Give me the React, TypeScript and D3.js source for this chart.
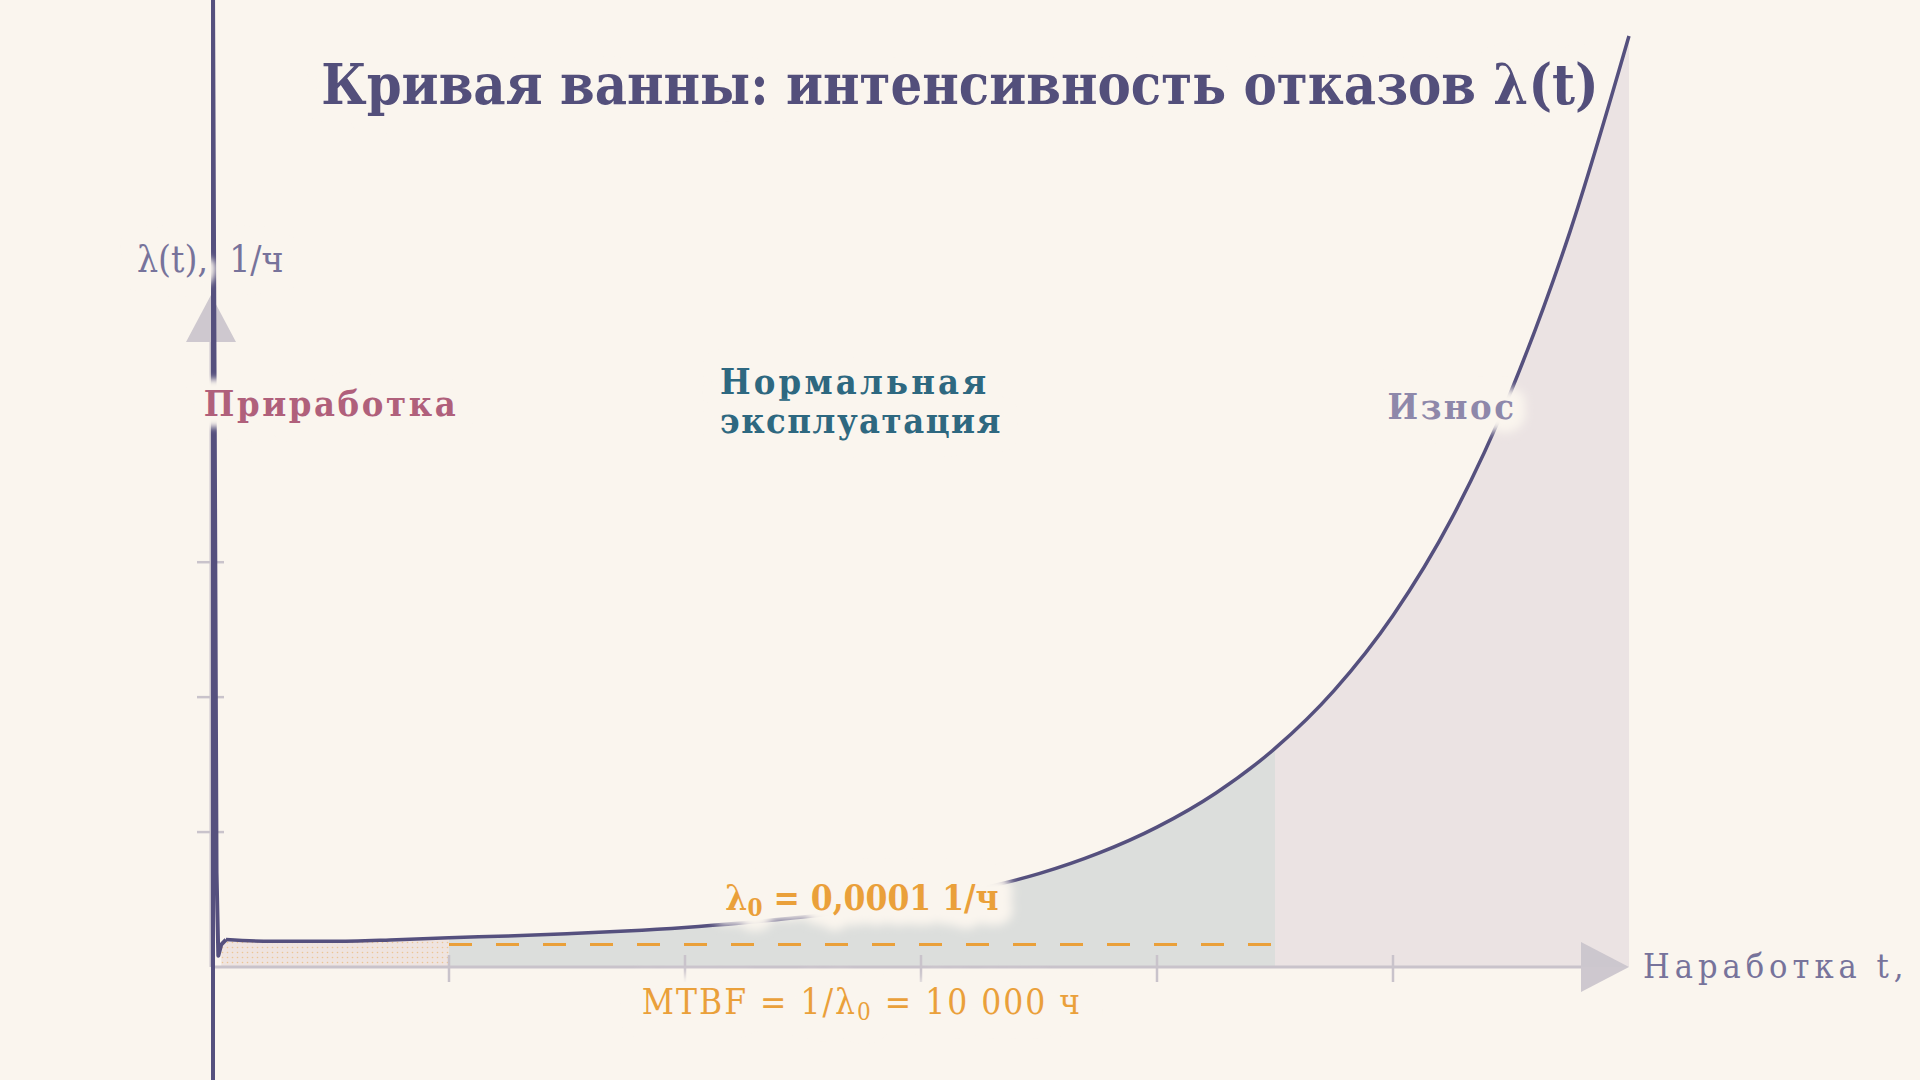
import React from 'react';
import * as d3 from 'd3';

const W = 1920;
const H = 1080;

const TITLE = 'Кривая ванны: интенсивность отказов λ(t)';
const Y_LABEL = 'λ(t),\u00A0 1/ч';
const X_LABEL = 'Наработка t,';
const ZONE_NAMES = ['Приработка', 'Нормальная', 'эксплуатация', 'Износ'];
const ZONE_BOUNDS = [0, 2000, 9000, 12000]; // hours
const X_TICKS = [2000, 4000, 6000, 8000, 10000];
const Y_TICKS = [6, 12, 18]; // ×1e-4 1/ч
const LAMBDA0 = 1; // ×1e-4 1/ч
const LAMBDA0_TEXT = ['λ', '0', ' = 0,0001 1/ч'];
const MTBF_TEXT = ['MTBF = 1/λ', '0', ' = 10 000 ч'];

// early-failure spike (hours, λ ×1e-4 1/ч)
const SPIKE_T = [0, 0, 30, 45, 70, 110];
const SPIKE_L = [-5.1, 43.5, 4.2, 0.5, 1.0, 1.22];
// main curve
const CURVE_T = [110, 500, 1000, 1500, 2000, 2500, 3000, 3500, 4000, 4500, 5000, 5500, 6000, 6500, 7000, 7500, 8000, 8500, 9000, 9500, 10000, 10500, 11000, 11500, 12000];
const CURVE_L = [1.22, 1.14, 1.14, 1.2, 1.3, 1.38, 1.48, 1.6, 1.76, 1.97, 2.22, 2.55, 2.95, 3.48, 4.15, 5.05, 6.22, 7.74, 9.72, 12.29, 15.63, 19.97, 25.6, 32.7, 41.4];

const BG = '#faf5ee';
const INK = '#55507e';
const AXIS = '#c9c3cb';
const ORANGE = '#eaa03a';
const LABEL = '#77739b';
const FONT = "'DejaVu Serif Condensed', 'DejaVu Serif', serif";

function HaloText(props: any) {
  const { children, halo = 18, blur = 3, ...rest } = props;
  return (
    <g>
      <text {...rest} fill={BG} stroke={BG} strokeWidth={halo} strokeLinejoin="round" filter={`url(#blur${blur})`}>{children}</text>
      <text {...rest}>{children}</text>
    </g>
  );
}

export default function App() {
  const x = d3.scaleLinear().domain([0, 12000]).range([213, 1629]);
  const y = d3.scaleLinear().domain([0, 43]).range([967, 0]);

  const spike = SPIKE_T.map((t, i) => [t, SPIKE_L[i]] as [number, number]);
  const curve = CURVE_T.map((t, i) => [t, CURVE_L[i]] as [number, number]);

  const line = d3.line<[number, number]>().x(d => x(d[0])).y(d => y(d[1]));
  const smooth = d3.line<[number, number]>().x(d => x(d[0])).y(d => y(d[1])).curve(d3.curveMonotoneX);
  const area = d3.area<[number, number]>().x(d => x(d[0])).y0(y(0)).y1(d => y(d[1])).curve(d3.curveMonotoneX);

  const zoneFills = ['url(#dots)', '#dcdedc', '#ebe3e3'];
  const x0 = x(0);
  const y0 = y(0);
  const xEnd = x(12000);
  const areaData = [spike[spike.length - 2], ...curve];

  return (
    <svg width={W} height={H} viewBox={`0 0 ${W} ${H}`} style={{ position: 'absolute', left: 0, top: 0, display: 'block' }}>
      <defs>
        <pattern id="dots" width="5" height="5" patternUnits="userSpaceOnUse">
          <rect width="5" height="5" fill="#efe4e0" />
          <circle cx="2.5" cy="2.5" r="0.8" fill={ORANGE} opacity="0.45" />
        </pattern>
        <filter id="blur3" x="-20%" y="-60%" width="140%" height="220%"><feGaussianBlur stdDeviation="3" /></filter>
        <filter id="blur5" x="-20%" y="-60%" width="140%" height="220%"><feGaussianBlur stdDeviation="5" /></filter>
        {ZONE_BOUNDS.slice(0, -1).map((b, i) => (
          <clipPath id={`zone${i}`} key={i}>
            <rect x={x(b) + (i === 0 ? 6 : 0)} y={0} width={x(ZONE_BOUNDS[i + 1]) - x(b) - (i === 0 ? 6 : 0)} height={y0} />
          </clipPath>
        ))}
      </defs>
      <rect width={W} height={H} fill={BG} />

      {/* zone fills */}
      {zoneFills.map((f, i) => (
        <path key={i} d={area(areaData) || ''} fill={f} clipPath={`url(#zone${i})`} />
      ))}

      {/* λ0 dashed line */}
      <line x1={x(ZONE_BOUNDS[1])} x2={x(ZONE_BOUNDS[2])} y1={y(LAMBDA0)} y2={y(LAMBDA0)} stroke={ORANGE} strokeWidth={3} strokeDasharray="23 24" />

      {/* axes */}
      <line x1={x0 - 2} x2={xEnd - 48} y1={y0} y2={y0} stroke={AXIS} strokeWidth={3} />
      <path d={`M${xEnd},${y0} L${xEnd - 48},${y0 - 25} L${xEnd - 48},${y0 + 25} Z`} fill={AXIS} opacity={0.9} />
      {X_TICKS.map(t => (
        <line key={t} x1={x(t)} x2={x(t)} y1={y0 - 12} y2={y0 + 15} stroke={AXIS} strokeWidth={2.5} />
      ))}
      <line x1={x0 - 2} x2={x0 - 2} y1={y0} y2={342} stroke={AXIS} strokeWidth={3} />
      <path d={`M${x0 - 2},295 L${x0 - 27},342 L${x0 + 23},342 Z`} fill={AXIS} opacity={0.9} />
      {Y_TICKS.map(v => (
        <line key={v} x1={x0 - 16} x2={x0 + 11} y1={y(v)} y2={y(v)} stroke={AXIS} strokeWidth={2.5} />
      ))}

      {/* curve */}
      <path d={line(spike) || ''} fill="none" stroke={INK} strokeWidth={4} strokeLinejoin="round" />
      <path d={smooth(curve) || ''} fill="none" stroke={INK} strokeWidth={3.5} />

      {/* title */}
      <HaloText x={960} y={104} textAnchor="middle" fontFamily={FONT} fontWeight="bold" fontSize={55.5} fill="#534f7b" halo={20}>{TITLE}</HaloText>

      {/* axis labels */}
      <HaloText x={137} y={272} fontFamily={FONT} fontSize={37} fill={LABEL} halo={22}>{Y_LABEL}</HaloText>
      <text x={1643} y={978} fontFamily={FONT} fontSize={34} fill={LABEL} letterSpacing={5}>{X_LABEL}</text>

      {/* zone labels */}
      <HaloText x={(x(ZONE_BOUNDS[0]) + x(ZONE_BOUNDS[1])) / 2} y={416} textAnchor="middle" fontFamily={FONT} fontWeight="bold" fontSize={36} letterSpacing={2.6} fill="#b0607b" halo={22}>{ZONE_NAMES[0]}</HaloText>
      <HaloText x={720} y={394} fontFamily={FONT} fontWeight="bold" fontSize={36} letterSpacing={3.2} fill="#2e6880" halo={22}>{ZONE_NAMES[1]}</HaloText>
      <HaloText x={720} y={433} fontFamily={FONT} fontWeight="bold" fontSize={36} letterSpacing={1.5} fill="#2e6880" halo={22}>{ZONE_NAMES[2]}</HaloText>
      <HaloText x={(x(ZONE_BOUNDS[2]) + x(ZONE_BOUNDS[3])) / 2} y={419} textAnchor="middle" fontFamily={FONT} fontWeight="bold" fontSize={36} letterSpacing={2.5} fill="#8e88aa" halo={26} blur={5}>{ZONE_NAMES[3]}</HaloText>

      {/* λ0 and MTBF */}
      <HaloText x={(x(ZONE_BOUNDS[1]) + x(ZONE_BOUNDS[2])) / 2} y={910} textAnchor="middle" fontFamily={FONT} fontWeight="bold" fontSize={35} fill={ORANGE} halo={30} blur={5}>
        {LAMBDA0_TEXT[0]}<tspan fontSize={24} dy={6}>{LAMBDA0_TEXT[1]}</tspan><tspan dy={-6}>{LAMBDA0_TEXT[2]}</tspan>
      </HaloText>
      <HaloText x={(x(ZONE_BOUNDS[1]) + x(ZONE_BOUNDS[2])) / 2} y={1014} textAnchor="middle" fontFamily={FONT} fontSize={35} letterSpacing={2} fill={ORANGE} halo={26} blur={5}>
        {MTBF_TEXT[0]}<tspan fontSize={24} dy={6}>{MTBF_TEXT[1]}</tspan><tspan dy={-6}>{MTBF_TEXT[2]}</tspan>
      </HaloText>
    </svg>
  );
}
